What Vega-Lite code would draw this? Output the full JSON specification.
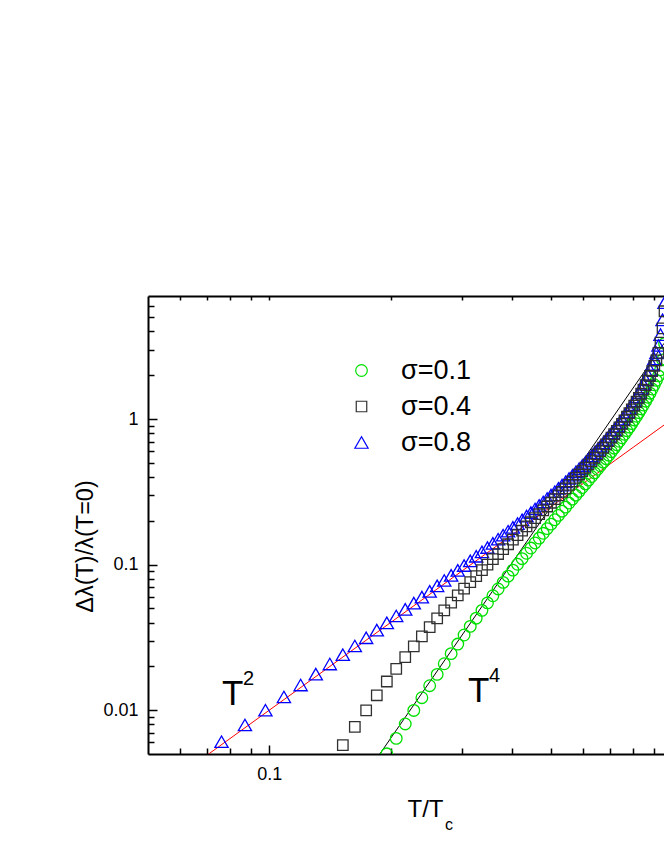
{
  "$schema": "https://vega.github.io/schema/vega-lite/v6.json",
  "width": 516,
  "height": 458,
  "autosize": {"type": "none"},
  "padding": {"left": 148, "top": 296, "right": 0, "bottom": 106},
  "background": "white",
  "config": {
    "font": "Liberation Sans",
    "view": {"stroke": null},
    "axis": {"grid": false, "domainColor": "black", "tickColor": "black", "labelColor": "black", "titleColor": "black", "titleFontWeight": "normal", "domainWidth": 2, "tickWidth": 1.5, "labelFont": "Liberation Sans", "titleFont": "Liberation Sans", "labelFontSize": 18}
  },
  "datasets": {
    "pts": [
      {"T":0.1957,"y":0.005016,"sigma":"σ=0.1"},{"T":0.2065,"y":0.006401,"sigma":"σ=0.1"},{"T":0.2174,"y":0.008043,"sigma":"σ=0.1"},{"T":0.2283,"y":0.009962,"sigma":"σ=0.1"},{"T":0.2391,"y":0.012183,"sigma":"σ=0.1"},{"T":0.25,"y":0.014726,"sigma":"σ=0.1"},{"T":0.2609,"y":0.017608,"sigma":"σ=0.1"},{"T":0.2717,"y":0.020846,"sigma":"σ=0.1"},{"T":0.2826,"y":0.024456,"sigma":"σ=0.1"},{"T":0.2935,"y":0.028449,"sigma":"σ=0.1"},
      {"T":0.3043,"y":0.03284,"sigma":"σ=0.1"},{"T":0.3152,"y":0.037639,"sigma":"σ=0.1"},{"T":0.3261,"y":0.042855,"sigma":"σ=0.1"},{"T":0.337,"y":0.048496,"sigma":"σ=0.1"},{"T":0.3478,"y":0.054567,"sigma":"σ=0.1"},{"T":0.3587,"y":0.061081,"sigma":"σ=0.1"},{"T":0.3696,"y":0.068041,"sigma":"σ=0.1"},{"T":0.3804,"y":0.075456,"sigma":"σ=0.1"},{"T":0.3913,"y":0.083335,"sigma":"σ=0.1"},{"T":0.4022,"y":0.091681,"sigma":"σ=0.1"},
      {"T":0.413,"y":0.100507,"sigma":"σ=0.1"},{"T":0.4239,"y":0.10982,"sigma":"σ=0.1"},{"T":0.4348,"y":0.11963,"sigma":"σ=0.1"},{"T":0.4457,"y":0.129948,"sigma":"σ=0.1"},{"T":0.4565,"y":0.140792,"sigma":"σ=0.1"},{"T":0.4674,"y":0.15217,"sigma":"σ=0.1"},{"T":0.4783,"y":0.164095,"sigma":"σ=0.1"},{"T":0.4891,"y":0.176598,"sigma":"σ=0.1"},{"T":0.5,"y":0.189686,"sigma":"σ=0.1"},{"T":0.5109,"y":0.203387,"sigma":"σ=0.1"},
      {"T":0.5217,"y":0.217738,"sigma":"σ=0.1"},{"T":0.5326,"y":0.23273,"sigma":"σ=0.1"},{"T":0.5435,"y":0.248389,"sigma":"σ=0.1"},{"T":0.5543,"y":0.26479,"sigma":"σ=0.1"},{"T":0.5652,"y":0.281946,"sigma":"σ=0.1"},{"T":0.5761,"y":0.299888,"sigma":"σ=0.1"},{"T":0.587,"y":0.318663,"sigma":"σ=0.1"},{"T":0.5978,"y":0.33831,"sigma":"σ=0.1"},{"T":0.6087,"y":0.358888,"sigma":"σ=0.1"},{"T":0.6196,"y":0.380449,"sigma":"σ=0.1"},
      {"T":0.6304,"y":0.40305,"sigma":"σ=0.1"},{"T":0.6413,"y":0.426735,"sigma":"σ=0.1"},{"T":0.6522,"y":0.451592,"sigma":"σ=0.1"},{"T":0.663,"y":0.477707,"sigma":"σ=0.1"},{"T":0.6739,"y":0.505155,"sigma":"σ=0.1"},{"T":0.6848,"y":0.534025,"sigma":"σ=0.1"},{"T":0.6957,"y":0.564426,"sigma":"σ=0.1"},{"T":0.7065,"y":0.596468,"sigma":"σ=0.1"},{"T":0.7174,"y":0.630285,"sigma":"σ=0.1"},{"T":0.7283,"y":0.666014,"sigma":"σ=0.1"},
      {"T":0.7391,"y":0.703798,"sigma":"σ=0.1"},{"T":0.75,"y":0.743834,"sigma":"σ=0.1"},{"T":0.7609,"y":0.786289,"sigma":"σ=0.1"},{"T":0.7717,"y":0.83143,"sigma":"σ=0.1"},{"T":0.7826,"y":0.879481,"sigma":"σ=0.1"},{"T":0.7935,"y":0.930655,"sigma":"σ=0.1"},{"T":0.8043,"y":0.985361,"sigma":"σ=0.1"},{"T":0.8152,"y":1.043949,"sigma":"σ=0.1"},{"T":0.8261,"y":1.106794,"sigma":"σ=0.1"},{"T":0.837,"y":1.174433,"sigma":"σ=0.1"},
      {"T":0.8478,"y":1.247343,"sigma":"σ=0.1"},{"T":0.8587,"y":1.326241,"sigma":"σ=0.1"},{"T":0.8696,"y":1.411893,"sigma":"σ=0.1"},{"T":0.8804,"y":1.505111,"sigma":"σ=0.1"},{"T":0.8913,"y":1.607052,"sigma":"σ=0.1"},{"T":0.9022,"y":1.718929,"sigma":"σ=0.1"},{"T":0.913,"y":1.842395,"sigma":"σ=0.1"},{"T":0.9239,"y":1.979213,"sigma":"σ=0.1"},{"T":0.9348,"y":2.18,"sigma":"σ=0.1"},{"T":0.9457,"y":2.55,"sigma":"σ=0.1"},{"T":0.9565,"y":3.3,"sigma":"σ=0.1"},

      {"T":0.0761,"y":0.006073,"sigma":"σ=0.8"},{"T":0.087,"y":0.007913,"sigma":"σ=0.8"},{"T":0.0978,"y":0.009995,"sigma":"σ=0.8"},{"T":0.1087,"y":0.012322,"sigma":"σ=0.8"},{"T":0.1196,"y":0.014889,"sigma":"σ=0.8"},{"T":0.1304,"y":0.0177,"sigma":"σ=0.8"},{"T":0.1413,"y":0.020757,"sigma":"σ=0.8"},{"T":0.1522,"y":0.024061,"sigma":"σ=0.8"},{"T":0.163,"y":0.027616,"sigma":"σ=0.8"},{"T":0.1739,"y":0.031423,"sigma":"σ=0.8"},
      {"T":0.1848,"y":0.035488,"sigma":"σ=0.8"},{"T":0.1957,"y":0.039812,"sigma":"σ=0.8"},{"T":0.2065,"y":0.044402,"sigma":"σ=0.8"},{"T":0.2174,"y":0.049259,"sigma":"σ=0.8"},{"T":0.2283,"y":0.054392,"sigma":"σ=0.8"},{"T":0.2391,"y":0.059803,"sigma":"σ=0.8"},{"T":0.25,"y":0.065501,"sigma":"σ=0.8"},{"T":0.2609,"y":0.071493,"sigma":"σ=0.8"},{"T":0.2717,"y":0.077785,"sigma":"σ=0.8"},{"T":0.2826,"y":0.084385,"sigma":"σ=0.8"},
      {"T":0.2935,"y":0.091299,"sigma":"σ=0.8"},{"T":0.3043,"y":0.098541,"sigma":"σ=0.8"},{"T":0.3152,"y":0.106119,"sigma":"σ=0.8"},{"T":0.3261,"y":0.114041,"sigma":"σ=0.8"},{"T":0.337,"y":0.122322,"sigma":"σ=0.8"},{"T":0.3478,"y":0.130971,"sigma":"σ=0.8"},{"T":0.3587,"y":0.140002,"sigma":"σ=0.8"},{"T":0.3696,"y":0.149432,"sigma":"σ=0.8"},{"T":0.3804,"y":0.159271,"sigma":"σ=0.8"},{"T":0.3913,"y":0.169539,"sigma":"σ=0.8"},
      {"T":0.4022,"y":0.18025,"sigma":"σ=0.8"},{"T":0.413,"y":0.191427,"sigma":"σ=0.8"},{"T":0.4239,"y":0.203055,"sigma":"σ=0.8"},{"T":0.4348,"y":0.215246,"sigma":"σ=0.8"},{"T":0.4457,"y":0.227944,"sigma":"σ=0.8"},{"T":0.4565,"y":0.24118,"sigma":"σ=0.8"},{"T":0.4674,"y":0.255004,"sigma":"σ=0.8"},{"T":0.4783,"y":0.269432,"sigma":"σ=0.8"},{"T":0.4891,"y":0.284497,"sigma":"σ=0.8"},{"T":0.5,"y":0.300238,"sigma":"σ=0.8"},
      {"T":0.5109,"y":0.316684,"sigma":"σ=0.8"},{"T":0.5217,"y":0.333877,"sigma":"σ=0.8"},{"T":0.5326,"y":0.351859,"sigma":"σ=0.8"},{"T":0.5435,"y":0.370676,"sigma":"σ=0.8"},{"T":0.5543,"y":0.39038,"sigma":"σ=0.8"},{"T":0.5652,"y":0.41102,"sigma":"σ=0.8"},{"T":0.5761,"y":0.432658,"sigma":"σ=0.8"},{"T":0.587,"y":0.455363,"sigma":"σ=0.8"},{"T":0.5978,"y":0.479202,"sigma":"σ=0.8"},{"T":0.6087,"y":0.504253,"sigma":"σ=0.8"},
      {"T":0.6196,"y":0.530606,"sigma":"σ=0.8"},{"T":0.6304,"y":0.558353,"sigma":"σ=0.8"},{"T":0.6413,"y":0.587599,"sigma":"σ=0.8"},{"T":0.6522,"y":0.618458,"sigma":"σ=0.8"},{"T":0.663,"y":0.651059,"sigma":"σ=0.8"},{"T":0.6739,"y":0.685551,"sigma":"σ=0.8"},{"T":0.6848,"y":0.722095,"sigma":"σ=0.8"},{"T":0.6957,"y":0.760873,"sigma":"σ=0.8"},{"T":0.7065,"y":0.802077,"sigma":"σ=0.8"},{"T":0.7174,"y":0.845959,"sigma":"σ=0.8"},
      {"T":0.7283,"y":0.892778,"sigma":"σ=0.8"},{"T":0.7391,"y":0.942823,"sigma":"σ=0.8"},{"T":0.75,"y":0.996446,"sigma":"σ=0.8"},{"T":0.7609,"y":1.05405,"sigma":"σ=0.8"},{"T":0.7717,"y":1.116101,"sigma":"σ=0.8"},{"T":0.7826,"y":1.183144,"sigma":"σ=0.8"},{"T":0.7935,"y":1.255819,"sigma":"σ=0.8"},{"T":0.8043,"y":1.334904,"sigma":"σ=0.8"},{"T":0.8152,"y":1.421278,"sigma":"σ=0.8"},{"T":0.8261,"y":1.51611,"sigma":"σ=0.8"},
      {"T":0.837,"y":1.62071,"sigma":"σ=0.8"},{"T":0.8478,"y":1.736772,"sigma":"σ=0.8"},{"T":0.8587,"y":1.866414,"sigma":"σ=0.8"},{"T":0.8696,"y":2.012448,"sigma":"σ=0.8"},{"T":0.8804,"y":2.178366,"sigma":"σ=0.8"},{"T":0.8913,"y":2.368875,"sigma":"σ=0.8"},{"T":0.9022,"y":2.590652,"sigma":"σ=0.8"},{"T":0.913,"y":2.852763,"sigma":"σ=0.8"},{"T":0.9239,"y":3.2,"sigma":"σ=0.8"},{"T":0.9348,"y":3.8,"sigma":"σ=0.8"},
      {"T":0.9457,"y":4.8,"sigma":"σ=0.8"},{"T":0.9565,"y":6.3,"sigma":"σ=0.8"},

      {"T":0.1522,"y":0.005762,"sigma":"σ=0.4"},{"T":0.163,"y":0.00768,"sigma":"σ=0.4"},{"T":0.1739,"y":0.009974,"sigma":"σ=0.4"},{"T":0.1848,"y":0.012658,"sigma":"σ=0.4"},{"T":0.1957,"y":0.015743,"sigma":"σ=0.4"},{"T":0.2065,"y":0.019233,"sigma":"σ=0.4"},{"T":0.2174,"y":0.023129,"sigma":"σ=0.4"},{"T":0.2283,"y":0.027426,"sigma":"σ=0.4"},{"T":0.2391,"y":0.032122,"sigma":"σ=0.4"},{"T":0.25,"y":0.037211,"sigma":"σ=0.4"},
      {"T":0.2609,"y":0.042688,"sigma":"σ=0.4"},{"T":0.2717,"y":0.048545,"sigma":"σ=0.4"},{"T":0.2826,"y":0.05478,"sigma":"σ=0.4"},{"T":0.2935,"y":0.061387,"sigma":"σ=0.4"},{"T":0.3043,"y":0.06837,"sigma":"σ=0.4"},{"T":0.3152,"y":0.075726,"sigma":"σ=0.4"},{"T":0.3261,"y":0.083456,"sigma":"σ=0.4"},{"T":0.337,"y":0.091562,"sigma":"σ=0.4"},{"T":0.3478,"y":0.100054,"sigma":"σ=0.4"},{"T":0.3587,"y":0.108934,"sigma":"σ=0.4"},
      {"T":0.3696,"y":0.118214,"sigma":"σ=0.4"},{"T":0.3804,"y":0.127905,"sigma":"σ=0.4"},{"T":0.3913,"y":0.138012,"sigma":"σ=0.4"},{"T":0.4022,"y":0.148554,"sigma":"σ=0.4"},{"T":0.413,"y":0.159542,"sigma":"σ=0.4"},{"T":0.4239,"y":0.171001,"sigma":"σ=0.4"},{"T":0.4348,"y":0.182934,"sigma":"σ=0.4"},{"T":0.4457,"y":0.195373,"sigma":"σ=0.4"},{"T":0.4565,"y":0.208335,"sigma":"σ=0.4"},{"T":0.4674,"y":0.221847,"sigma":"σ=0.4"},
      {"T":0.4783,"y":0.235933,"sigma":"σ=0.4"},{"T":0.4891,"y":0.250617,"sigma":"σ=0.4"},{"T":0.5,"y":0.265937,"sigma":"σ=0.4"},{"T":0.5109,"y":0.28192,"sigma":"σ=0.4"},{"T":0.5217,"y":0.2986,"sigma":"σ=0.4"},{"T":0.5326,"y":0.316021,"sigma":"σ=0.4"},{"T":0.5435,"y":0.334217,"sigma":"σ=0.4"},{"T":0.5543,"y":0.353246,"sigma":"σ=0.4"},{"T":0.5652,"y":0.373149,"sigma":"σ=0.4"},{"T":0.5761,"y":0.393971,"sigma":"σ=0.4"},
      {"T":0.587,"y":0.415791,"sigma":"σ=0.4"},{"T":0.5978,"y":0.43865,"sigma":"σ=0.4"},{"T":0.6087,"y":0.462647,"sigma":"σ=0.4"},{"T":0.6196,"y":0.48783,"sigma":"σ=0.4"},{"T":0.6304,"y":0.514305,"sigma":"σ=0.4"},{"T":0.6413,"y":0.542146,"sigma":"σ=0.4"},{"T":0.6522,"y":0.571469,"sigma":"σ=0.4"},{"T":0.663,"y":0.602389,"sigma":"σ=0.4"},{"T":0.6739,"y":0.63504,"sigma":"σ=0.4"},{"T":0.6848,"y":0.66953,"sigma":"σ=0.4"},
      {"T":0.6957,"y":0.706059,"sigma":"σ=0.4"},{"T":0.7065,"y":0.744768,"sigma":"σ=0.4"},{"T":0.7174,"y":0.785874,"sigma":"σ=0.4"},{"T":0.7283,"y":0.829606,"sigma":"σ=0.4"},{"T":0.7391,"y":0.876201,"sigma":"σ=0.4"},{"T":0.75,"y":0.925966,"sigma":"σ=0.4"},{"T":0.7609,"y":0.97923,"sigma":"σ=0.4"},{"T":0.7717,"y":1.036358,"sigma":"σ=0.4"},{"T":0.7826,"y":1.097812,"sigma":"σ=0.4"},{"T":0.7935,"y":1.164142,"sigma":"σ=0.4"},
      {"T":0.8043,"y":1.235916,"sigma":"σ=0.4"},{"T":0.8152,"y":1.313847,"sigma":"σ=0.4"},{"T":0.8261,"y":1.398778,"sigma":"σ=0.4"},{"T":0.837,"y":1.491789,"sigma":"σ=0.4"},{"T":0.8478,"y":1.594141,"sigma":"σ=0.4"},{"T":0.8587,"y":1.707276,"sigma":"σ=0.4"},{"T":0.8696,"y":1.833262,"sigma":"σ=0.4"},{"T":0.8804,"y":1.974464,"sigma":"σ=0.4"},{"T":0.8913,"y":2.134089,"sigma":"σ=0.4"},{"T":0.9022,"y":2.316255,"sigma":"σ=0.4"},
      {"T":0.913,"y":2.526391,"sigma":"σ=0.4"},{"T":0.9239,"y":2.85,"sigma":"σ=0.4"},{"T":0.9348,"y":3.35,"sigma":"σ=0.4"},{"T":0.9457,"y":4.2,"sigma":"σ=0.4"},{"T":0.9565,"y":5.5,"sigma":"σ=0.4"}
    ],
    "red": [{"T":0.0707,"y":0.005},{"T":0.9536,"y":0.909}],
    "black": [{"T":0.188,"y":0.005},{"T":0.9536,"y":3.31}],
    "notes": [{"label":"T","sup":"2","T":0.0763,"y":0.01086},{"label":"T","sup":"4","T":0.3112,"y":0.01138}],
    "sub": [{"label":"c","T":0.2729,"y":0.005}]
  },
  "resolve": {"axis": {"x": "independent", "y": "independent"}},
  "layer": [
    {
      "data": {"name": "red"},
      "mark": {"type": "line", "color": "#ff0000", "strokeWidth": 1, "clip": true},
      "encoding": {
        "x": {"field": "T", "type": "quantitative", "scale": {"type": "log", "domain": [0.05, 0.9536], "nice": false},
          "axis": {"orient": "bottom", "values": [0.1], "format": "~g", "tickSize": -9, "labelPadding": 20, "domain": true, "labelFlush": false,
            "title": "T/T", "titleX": 277, "titleY": 62, "titleAlign": "center", "titleBaseline": "alphabetic", "titleFontSize": 24}},
        "y": {"field": "y", "type": "quantitative", "scale": {"type": "log", "domain": [0.005, 7], "nice": false},
          "axis": {"orient": "left", "values": [0.01, 0.1, 1], "format": "~g", "tickSize": -9, "labelPadding": 19, "domain": true, "labelFlush": false,
            "title": "Δλ(T)/λ(T=0)", "titleX": -56, "titleY": 250, "titleAngle": -90, "titleAlign": "center", "titleBaseline": "alphabetic", "titleFontSize": 23.5}}
      }
    },
    {
      "data": {"name": "black"},
      "mark": {"type": "line", "color": "#000000", "strokeWidth": 1, "clip": true},
      "encoding": {
        "x": {"field": "T", "type": "quantitative", "scale": {"type": "log", "domain": [0.05, 0.9536], "nice": false},
          "axis": {"orient": "bottom", "values": [0.06, 0.07, 0.08, 0.09, 0.2, 0.3, 0.4, 0.5, 0.6, 0.7, 0.8, 0.9], "labels": false, "tickSize": -6, "domain": false, "title": null}},
        "y": {"field": "y", "type": "quantitative", "scale": {"type": "log", "domain": [0.005, 7], "nice": false},
          "axis": {"orient": "left", "values": [0.006, 0.007, 0.008, 0.009, 0.02, 0.03, 0.04, 0.05, 0.06, 0.07, 0.08, 0.09, 0.2, 0.3, 0.4, 0.5, 0.6, 0.7, 0.8, 0.9, 2, 3, 4, 5, 6], "labels": false, "tickSize": -6, "domain": false, "title": null}}
      }
    },
    {
      "data": {"name": "pts"},
      "mark": {"type": "point", "filled": false, "strokeWidth": 1.3, "opacity": 1, "clip": true},
      "encoding": {
        "x": {"field": "T", "type": "quantitative", "scale": {"type": "log", "domain": [0.05, 0.9536], "nice": false},
          "axis": {"orient": "top", "values": [0.06, 0.07, 0.08, 0.09, 0.1, 0.2, 0.3, 0.4, 0.5, 0.6, 0.7, 0.8, 0.9], "labels": false, "tickSize": -4, "domain": true, "title": null}},
        "y": {"field": "y", "type": "quantitative", "scale": {"type": "log", "domain": [0.005, 7], "nice": false}, "axis": null},
        "shape": {"field": "sigma", "type": "nominal",
          "scale": {"domain": ["σ=0.1", "σ=0.4", "σ=0.8"], "range": ["circle", "square", "triangle-up"]},
          "legend": {"orient": "none", "legendX": 200, "legendY": 61, "title": null, "labelFontSize": 27, "labelFont": "Liberation Sans", "labelColor": "black", "symbolSize": 140, "symbolStrokeWidth": 1.2, "rowPadding": 8, "labelOffset": 26, "padding": 0}},
        "color": {"field": "sigma", "type": "nominal",
          "scale": {"domain": ["σ=0.1", "σ=0.4", "σ=0.8"], "range": ["#00e000", "#303030", "#0000ff"]},
          "legend": {"orient": "none", "legendX": 200, "legendY": 61, "title": null, "labelFontSize": 27, "labelFont": "Liberation Sans", "labelColor": "black", "symbolSize": 140, "symbolStrokeWidth": 1.2, "rowPadding": 8, "labelOffset": 26, "padding": 0}},
        "size": {"field": "sigma", "type": "nominal",
          "scale": {"type": "ordinal", "domain": ["σ=0.1", "σ=0.4", "σ=0.8"], "range": [135, 110, 175]}, "legend": null}
      }
    },
    {
      "data": {"name": "notes"},
      "mark": {"type": "text", "fontSize": 35, "font": "Liberation Sans", "align": "left", "baseline": "alphabetic", "color": "black"},
      "encoding": {
        "x": {"field": "T", "type": "quantitative", "scale": {"type": "log", "domain": [0.05, 0.9536], "nice": false}, "axis": null},
        "y": {"field": "y", "type": "quantitative", "scale": {"type": "log", "domain": [0.005, 7], "nice": false}, "axis": null},
        "text": {"field": "label"}
      }
    },
    {
      "data": {"name": "notes"},
      "mark": {"type": "text", "fontSize": 20, "font": "Liberation Sans", "align": "left", "baseline": "alphabetic", "color": "black", "dx": 21, "dy": -20},
      "encoding": {
        "x": {"field": "T", "type": "quantitative", "scale": {"type": "log", "domain": [0.05, 0.9536], "nice": false}, "axis": null},
        "y": {"field": "y", "type": "quantitative", "scale": {"type": "log", "domain": [0.005, 7], "nice": false}, "axis": null},
        "text": {"field": "sup"}
      }
    },
    {
      "data": {"name": "sub"},
      "mark": {"type": "text", "fontSize": 16, "font": "Liberation Sans", "align": "left", "baseline": "alphabetic", "color": "black", "dy": 76},
      "encoding": {
        "x": {"field": "T", "type": "quantitative", "scale": {"type": "log", "domain": [0.05, 0.9536], "nice": false}, "axis": null},
        "y": {"field": "y", "type": "quantitative", "scale": {"type": "log", "domain": [0.005, 7], "nice": false}, "axis": null},
        "text": {"field": "label"}
      }
    }
  ]
}
